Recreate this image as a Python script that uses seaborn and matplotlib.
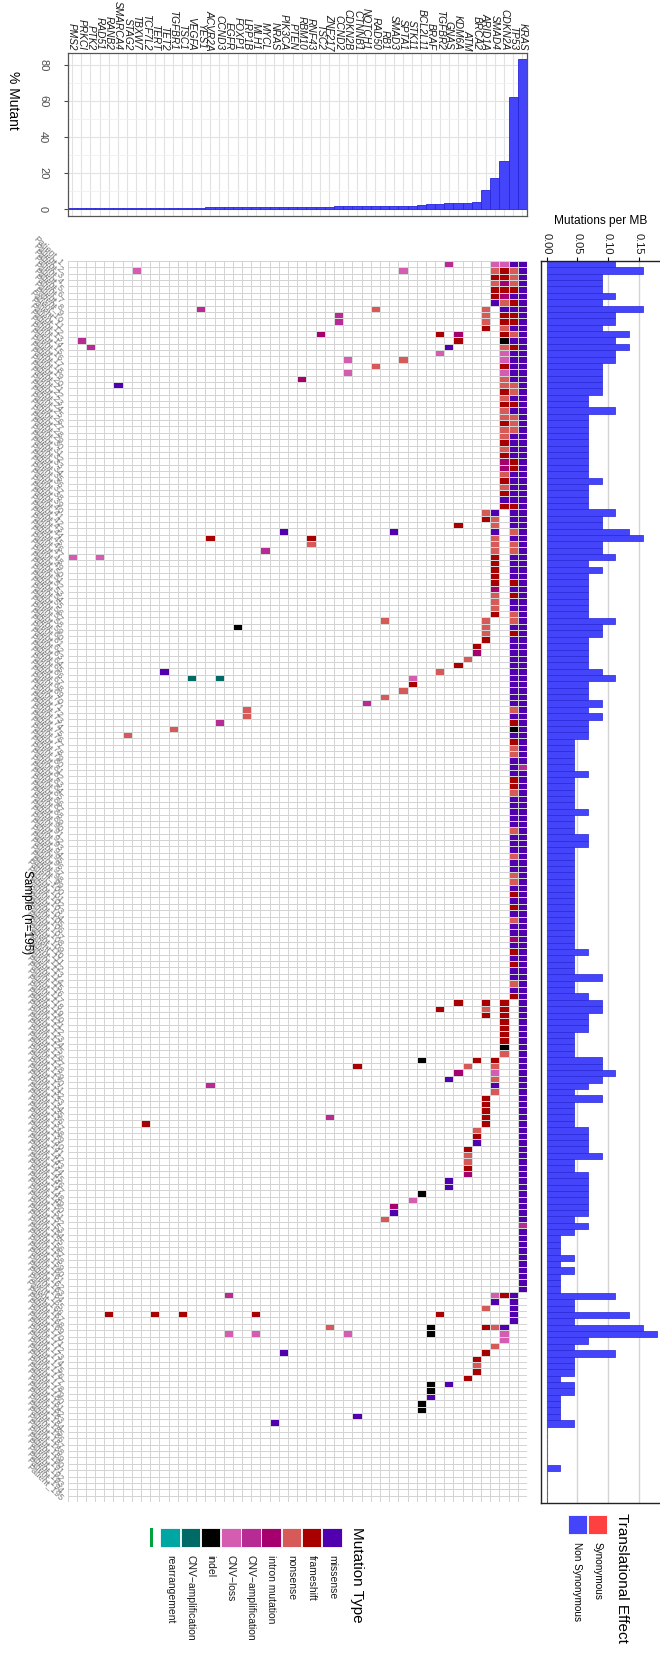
import numpy as np
import pandas as pd
import matplotlib
matplotlib.use("Agg")
import matplotlib.pyplot as plt
from matplotlib.colors import ListedColormap
from matplotlib.patches import Rectangle
import seaborn as sns

# genes, left to right (least to most frequently mutated)
genes = ["PMS2", "PRKCI", "PTK2", "RAD51", "RANB2", "SMARCA4", "STAG2", "TBXW7", "TCF7L2", "TERT",
         "TET2", "TGFBR1", "TSC1", "VEGFA", "YES1", "ACVR2A", "CCND3", "EGFR", "FOXP1", "LRP1B",
         "MLH1", "MYCL", "NRAS", "PIK3CA", "PTEN", "RBM10", "RNF43", "TSC2", "ZNF217", "CCND2",
         "CDKN2B", "CTNNB1", "NOTCH1", "RAD50", "RB1", "SMAD3", "SPTA1", "STK11", "BCL2L11", "BRAF",
         "TGFBR2", "GNAS", "KDM6A", "ATM", "BRCA2", "ARID1A", "SMAD4", "CDKN2A", "TP53", "KRAS"]

pct_mutant = [0.5, 0.5, 0.5, 0.5, 0.5, 0.5, 0.5, 0.5, 0.5, 0.5,
              0.5, 0.5, 0.5, 0.5, 0.5, 1.0, 1.0, 1.0, 1.0, 1.0,
              1.0, 1.0, 1.0, 1.0, 1.0, 1.0, 1.0, 1.0, 1.0, 1.5,
              1.5, 1.5, 1.5, 1.5, 1.5, 1.5, 1.5, 1.5, 2.1, 2.6,
              2.6, 3.1, 3.1, 3.6, 4.1, 10.8, 17.4, 26.7, 62.1, 83.6]

# mutation types: code, legend label, colour
type_codes = ["M", "F", "N", "I", "A", "L", "D", "T", "R"]
type_labels = ["missense", "frameshift", "nonsense", "intron mutation", "CNV\u2212amplification",
               "CNV\u2212loss", "indel", "CNV\u2212amplification", "rearrangement"]
type_colors = ["#5000ae", "#a80000", "#d65b58", "#a6006f", "#b82a94",
               "#d55db1", "#000000", "#006b66", "#00a6a2"]

# per-sample calls for the most frequently mutated genes ('.' = wild type)
kras_calls = ("MMMMMMMMMM" "MMMMMMMMMM" "MMMMMMMMMM" "MMMMMMMMMM" "MMMMMMMMMM"
              "MMMMMMMMMM" "MMMMMMMMMM" "MMMMMMMMMA" "MMMMMMMMMM" "MMMMMMMMMM"
              "MMMMMMMMMM" "MMMMMMMMMM" "MMMMMMMMMM" "MMMMMMMMMM" "MMMMMMMMMM"
              "MAMMMMMMMM" "MM........" ".........." ".........." ".....")
tp53_calls = ("MNNNFMFMFF" "MNMFMMMMMN" "NMFMNNNMMM" "MFFMMMMMFM" "MMNMNNMMMM"
              "FMFMMNNMFM" "MMMMMMMMMM" "NMFDMFNNMM" "MFFNMMMMMN" "MMMNMMNNMF"
              "MFMNMMIMFM" "FMMNMF...." ".........." ".........." ".........."
              ".........." "..MMMMM..." ".........." ".........." ".....")
cdkn2a_calls = ("LFFIFINMFF" "NFDNLLFLNN" "FNFNNFNNFN" "FIINFNFMF." ".........."
                ".........." ".........." ".........." ".........." ".........."
                ".........." "......FFFF" "FFFDN....." ".........." ".........."
                ".........." "..F....MLL" ".........." ".........." ".....")
smad4_calls = ("LNFNFFM..." ".........." ".........." ".........M" "NNMNNNFFFF"
               "FINNNF...." ".........." ".........." ".........." ".........."
               ".........." ".........." ".....FNLNM" "N........." ".........."
               ".........." "..LM...N.." "N........." ".........." ".....")
arid1a_calls = (".......NNN" "F........." ".........." ".........N" "F........."
                "......NNNF" ".........." ".........." ".........." ".........."
                ".........." "......FNF." ".........." ".FFFFF...." ".........."
                ".........." "....N..F.." ".F........" ".........." ".....")

# remaining calls: (sample row, gene, type code)
other_calls = [
    (0, "GNAS", "A"), (1, "SPTA1", "L"), (1, "TBXW7", "L"), (7, "YES1", "A"), (7, "RAD50", "N"),
    (8, "CCND2", "A"), (9, "CCND2", "A"), (11, "TSC2", "I"), (11, "TGFBR2", "F"), (11, "KDM6A", "I"),
    (12, "PRKCI", "A"), (12, "KDM6A", "F"), (13, "PTK2", "A"), (13, "GNAS", "M"), (14, "TGFBR2", "L"),
    (15, "CDKN2B", "L"), (15, "SPTA1", "N"), (16, "RAD50", "N"), (17, "CDKN2B", "L"), (18, "RBM10", "I"),
    (19, "SMARCA4", "M"), (41, "KDM6A", "F"), (42, "PIK3CA", "M"), (42, "SMAD3", "M"), (43, "ACVR2A", "F"),
    (43, "RNF43", "F"), (44, "RNF43", "N"), (45, "MYCL", "A"), (46, "PMS2", "L"), (46, "RAD51", "L"),
    (56, "RB1", "N"), (57, "FOXP1", "D"), (60, "BRCA2", "F"), (61, "BRCA2", "I"), (62, "ATM", "N"),
    (63, "KDM6A", "F"), (64, "TGFBR2", "N"), (64, "TET2", "M"), (65, "STK11", "L"), (65, "VEGFA", "T"),
    (65, "CCND3", "T"), (66, "STK11", "F"), (67, "SPTA1", "N"), (68, "RB1", "N"), (69, "NOTCH1", "A"),
    (70, "LRP1B", "N"), (71, "LRP1B", "N"), (72, "CCND3", "A"), (73, "TGFBR1", "N"), (74, "STAG2", "N"),
    (116, "KDM6A", "F"), (117, "TGFBR2", "F"), (125, "BCL2L11", "D"), (125, "BRCA2", "F"), (126, "ATM", "N"),
    (126, "CTNNB1", "F"), (127, "KDM6A", "I"), (128, "GNAS", "M"), (129, "ACVR2A", "A"), (134, "ZNF217", "A"),
    (135, "TCF7L2", "F"), (136, "BRCA2", "N"), (137, "BRCA2", "F"), (138, "BRCA2", "M"),
    (139, "ATM", "F"), (140, "ATM", "N"), (141, "ATM", "N"), (142, "ATM", "F"), (143, "ATM", "I"),
    (144, "GNAS", "M"), (145, "GNAS", "M"), (146, "BCL2L11", "D"), (147, "STK11", "L"), (148, "SMAD3", "I"),
    (149, "SMAD3", "M"), (150, "RB1", "N"), (162, "EGFR", "A"), (165, "TGFBR2", "F"), (165, "RANB2", "F"),
    (165, "TERT", "F"), (165, "TSC1", "F"), (165, "MLH1", "F"), (167, "BRAF", "D"), (167, "ZNF217", "N"),
    (168, "BRAF", "D"), (168, "EGFR", "L"), (168, "MLH1", "L"), (168, "CDKN2B", "L"), (171, "PIK3CA", "M"),
    (172, "BRCA2", "F"), (173, "BRCA2", "N"), (174, "BRCA2", "F"), (175, "ATM", "F"), (176, "BRAF", "D"),
    (176, "GNAS", "M"), (177, "BRAF", "D"), (178, "BRAF", "M"), (179, "BCL2L11", "D"), (180, "BCL2L11", "D"),
    (181, "CTNNB1", "M"), (182, "NRAS", "M"),
]

# mutations per MB, one value per sample (same order as the heatmap rows)
burden = [0.112, 0.157, 0.090, 0.090, 0.090, 0.112, 0.090, 0.157, 0.112, 0.112,
          0.090, 0.135, 0.112, 0.135, 0.112, 0.112, 0.090, 0.090, 0.090, 0.090,
          0.090, 0.067, 0.067, 0.112, 0.067, 0.067, 0.067, 0.067, 0.067, 0.067,
          0.067, 0.067, 0.067, 0.067, 0.090, 0.067, 0.067, 0.067, 0.067, 0.112,
          0.090, 0.090, 0.135, 0.157, 0.090, 0.090, 0.112, 0.067, 0.090, 0.067,
          0.067, 0.067, 0.067, 0.067, 0.067, 0.067, 0.112, 0.090, 0.090, 0.067,
          0.067, 0.067, 0.067, 0.067, 0.090, 0.112, 0.067, 0.067, 0.067, 0.090,
          0.067, 0.090, 0.067, 0.067, 0.067, 0.045, 0.045, 0.045, 0.045, 0.045,
          0.067, 0.045, 0.045, 0.045, 0.045, 0.045, 0.067, 0.045, 0.045, 0.045,
          0.067, 0.067, 0.045, 0.045, 0.045, 0.045, 0.045, 0.045, 0.045, 0.045,
          0.045, 0.045, 0.045, 0.045, 0.045, 0.045, 0.045, 0.045, 0.067, 0.045,
          0.045, 0.045, 0.090, 0.045, 0.045, 0.067, 0.090, 0.090, 0.067, 0.067,
          0.067, 0.045, 0.045, 0.045, 0.045, 0.090, 0.090, 0.112, 0.090, 0.067,
          0.045, 0.090, 0.045, 0.045, 0.045, 0.045, 0.067, 0.067, 0.067, 0.067,
          0.090, 0.045, 0.045, 0.067, 0.067, 0.067, 0.067, 0.067, 0.067, 0.067,
          0.045, 0.067, 0.045, 0.022, 0.022, 0.022, 0.045, 0.022, 0.045, 0.022,
          0.022, 0.022, 0.112, 0.045, 0.045, 0.135, 0.045, 0.157, 0.180, 0.067,
          0.045, 0.112, 0.045, 0.045, 0.045, 0.022, 0.045, 0.045, 0.022, 0.022,
          0.022, 0.022, 0.045, 0.0, 0.0, 0.0, 0.0, 0.0, 0.0, 0.022,
          0.0, 0.0, 0.0, 0.0, 0.0]

n_samples = len(burden)
sample_labels = [f"Patient_{i}" for i in range(1, n_samples + 1)]

plt.rcParams["font.family"] = ["Liberation Sans", "DejaVu Sans"]

# ---- build the sample x gene matrix of type codes
code_index = {c: i + 1 for i, c in enumerate(type_codes)}
mat = np.zeros((n_samples, len(genes)))
dense_calls = {"KRAS": kras_calls, "TP53": tp53_calls, "CDKN2A": cdkn2a_calls,
               "SMAD4": smad4_calls, "ARID1A": arid1a_calls}
for gene, calls in dense_calls.items():
    assert len(calls) == n_samples, gene
    for r, c in enumerate(calls):
        if c != ".":
            mat[r, genes.index(gene)] = code_index[c]
for r, g, c in other_calls:
    mat[r, genes.index(g)] = code_index[c]

W, H = 660, 1653
fig = plt.figure(figsize=(W / 100, H / 100), dpi=100)


def px_axes(x0, y0, x1, y1):
    return fig.add_axes([x0 / W, 1 - y1 / H, (x1 - x0) / W, (y1 - y0) / H])


blue = "#4444fb"
edge_blue = "#2626d8"

# ---- heatmap
ax_h = px_axes(67.5, 261, 527, 1502)
cmap = ListedColormap(["white"] + type_colors)
sns.heatmap(mat, cmap=cmap, vmin=-0.5, vmax=len(type_colors) + 0.5, cbar=False,
            linewidths=0.6, linecolor="#d4d4d4", xticklabels=False,
            yticklabels=sample_labels, ax=ax_h)
ax_h.set_yticks(np.arange(n_samples) + 0.5)
ax_h.set_yticklabels(sample_labels, rotation=-45, ha="right", va="center",
                     rotation_mode="anchor", fontsize=6.5, color="#7a7a7a")
ax_h.tick_params(axis="y", length=0, pad=4)
ax_h.set_xlabel("")
ax_h.set_ylabel("")

# ---- gene frequency bars (top)
ax_t = px_axes(67.5, 53, 527, 216)
df_g = pd.DataFrame({"gene": genes, "pct": pct_mutant})
sns.barplot(data=df_g, x="gene", y="pct", order=genes, color=blue, saturation=1,
            edgecolor=edge_blue, linewidth=0.6, width=1.0, ax=ax_t)
ax_t.set_xlim(-0.5, len(genes) - 0.5)
ax_t.set_ylim(-3.9, 86.7)
ax_t.set_yticks([0, 20, 40, 60, 80])
ax_t.set_yticks([10, 30, 50, 70], minor=True)
ax_t.set_axisbelow(True)
ax_t.grid(True, which="major", color="#e2e2e2", lw=0.8)
ax_t.grid(True, which="minor", axis="y", color="#f0f0f0", lw=0.6)
ax_t.xaxis.tick_top()
ax_t.set_xticks(range(len(genes)))
ax_t.set_xticklabels(genes, rotation=-90, fontsize=7.3, style="italic", color="#1a1a1a")
ax_t.tick_params(axis="x", length=0, pad=2)
ax_t.set_yticklabels(["0", "20", "40", "60", "80"], rotation=-90, va="center",
                     fontsize=8, color="#4d4d4d")
ax_t.tick_params(axis="y", which="major", length=3, color="#4d4d4d", pad=11)
ax_t.tick_params(axis="y", which="minor", length=0)
ax_t.set_xlabel("")
ax_t.set_ylabel("")
for s in ax_t.spines.values():
    s.set_color("#555555")
    s.set_linewidth(0.9)

# ---- mutation burden (right)
ax_b = px_axes(541, 261, 663, 1503)
df_b = pd.DataFrame({"sample": sample_labels, "burden": burden})
sns.barplot(data=df_b, y="sample", x="burden", order=sample_labels, orient="h",
            color=blue, saturation=1, edgecolor=edge_blue, linewidth=0.5,
            width=1.0, ax=ax_b)
ax_b.set_ylim(n_samples - 0.5, -0.5)
ax_b.set_xlim(-0.0095, 0.19)
ax_b.set_axisbelow(True)
ax_b.grid(True, axis="x", color="#d4d4d4", lw=1.0)
ax_b.xaxis.tick_top()
ax_b.set_xticks([0.0, 0.05, 0.10, 0.15])
ax_b.set_xticklabels(["0.00", "0.05", "0.10", "0.15"], rotation=-90, fontsize=8,
                     color="#1a1a1a")
ax_b.tick_params(axis="x", length=3, pad=2)
ax_b.set_yticks([])
ax_b.set_xlabel("")
ax_b.set_ylabel("")
ax_b.spines["right"].set_visible(False)
for k in ["left", "top", "bottom"]:
    ax_b.spines[k].set_color("#222222")
    ax_b.spines[k].set_linewidth(1.0)

# ---- titles and legends drawn in pixel space
ax_o = fig.add_axes([0, 0, 1, 1])
ax_o.set_xlim(0, W)
ax_o.set_ylim(H, 0)
ax_o.axis("off")

ax_o.text(13, 100, "% Mutant", rotation=-90, ha="center", va="center", fontsize=10)
ax_o.text(27, 912, "Sample (n=195)", rotation=-90, ha="center", va="center", fontsize=8.5)
ax_o.text(601, 221, "Mutations per MB", ha="center", va="center", fontsize=8.6)

# Mutation Type legend
ax_o.text(357, 1527, "Mutation Type", rotation=-90, ha="center", va="top", fontsize=11)
for i, (lab, col) in enumerate(zip(type_labels, type_colors)):
    x0 = 322 - 20.2 * i
    ax_o.add_patch(Rectangle((x0, 1528), 19.6, 19, facecolor=col, edgecolor="white", lw=0.6))
    ax_o.text(x0 + 9.8, 1555, lab, rotation=-90, ha="center", va="top", fontsize=7.5,
              color="#1a1a1a")
ax_o.add_patch(Rectangle((150, 1528), 3, 19, facecolor="#00a23c", edgecolor="none"))

# Translational Effect legend
ax_o.text(622, 1513, "Translational Effect", rotation=-90, ha="center", va="top", fontsize=11)
ax_o.add_patch(Rectangle((588, 1515), 19, 19, facecolor="#ff4040", edgecolor="white", lw=0.6))
ax_o.add_patch(Rectangle((568, 1515), 19, 19, facecolor=blue, edgecolor="white", lw=0.6))
ax_o.text(597.5, 1542, "Synonymous", rotation=-90, ha="center", va="top", fontsize=7.2)
ax_o.text(577.5, 1542, "Non Synonymous", rotation=-90, ha="center", va="top", fontsize=7.2)

fig.savefig("out.png", dpi=100)
